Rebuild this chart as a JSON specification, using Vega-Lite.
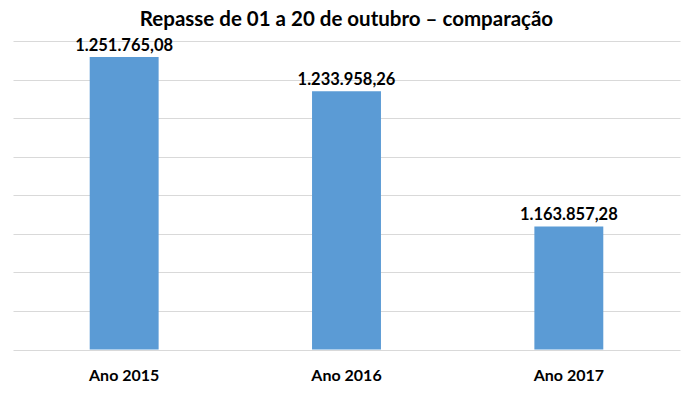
{
  "$schema": "https://vega.github.io/schema/vega-lite/v6.json",
  "width": 667,
  "height": 308.5,
  "autosize": {"type": "none"},
  "padding": {"left": 13, "top": 41, "right": 20, "bottom": 44},
  "background": "white",
  "title": {
    "text": "Repasse de 01 a 20 de outubro – comparação",
    "font": "Lato",
    "fontSize": 20.5,
    "fontWeight": "bold",
    "color": "#000000",
    "anchor": "middle",
    "baseline": "alphabetic",
    "offset": 15,
    "dy": 24
  },
  "data": {
    "values": [
      {"ano": "Ano 2015", "valor": 1251765.08, "rotulo": "1.251.765,08"},
      {"ano": "Ano 2016", "valor": 1233958.26, "rotulo": "1.233.958,26"},
      {"ano": "Ano 2017", "valor": 1163857.28, "rotulo": "1.163.857,28"}
    ]
  },
  "encoding": {
    "x": {
      "field": "ano",
      "type": "nominal",
      "sort": null,
      "scale": {"paddingInner": 0.69, "paddingOuter": 0.345},
      "axis": {
        "title": null,
        "labelAngle": 0,
        "ticks": false,
        "domain": false,
        "labelFont": "Lato",
        "labelFontSize": 16,
        "labelFontWeight": "bold",
        "labelColor": "#000000",
        "labelPadding": 18
      }
    },
    "y": {
      "field": "valor",
      "type": "quantitative",
      "scale": {"domain": [1100000, 1260000], "zero": false, "nice": false},
      "axis": {
        "title": null,
        "labels": false,
        "ticks": false,
        "domain": false,
        "values": [1100000, 1120000, 1140000, 1160000, 1180000, 1200000, 1220000, 1240000, 1260000],
        "grid": true,
        "gridColor": "#d9d9d9",
        "gridWidth": 1
      }
    }
  },
  "layer": [
    {"mark": {"type": "bar", "color": "#5b9bd5", "clip": true}},
    {
      "mark": {
        "type": "text",
        "font": "Lato",
        "fontSize": 16.5,
        "fontWeight": "bold",
        "color": "#000000",
        "baseline": "alphabetic",
        "dy": -6
      },
      "encoding": {"text": {"field": "rotulo"}}
    }
  ],
  "config": {"view": {"stroke": null}}
}
